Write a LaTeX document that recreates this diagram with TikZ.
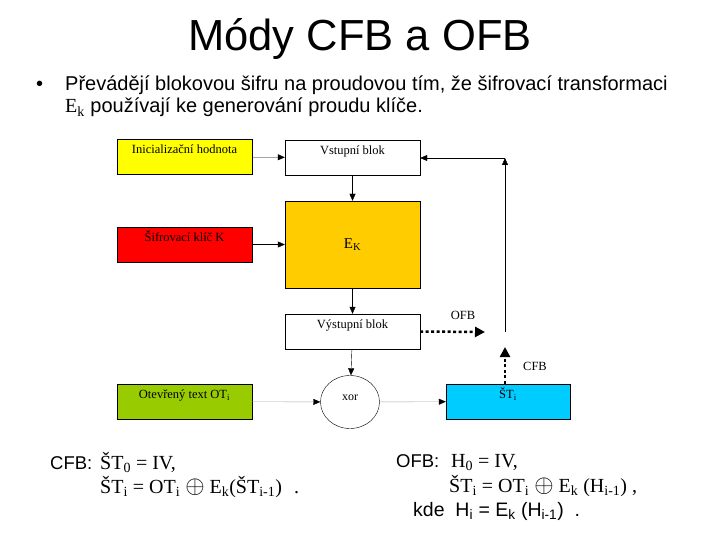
\documentclass[tikz,border=0pt]{standalone}
\usepackage{fontspec}
\setmainfont{Liberation Sans}
\newfontfamily\tms{Liberation Serif}
\usetikzlibrary{arrows.meta,shapes.geometric}
\definecolor{inityellow}{HTML}{FFFF00}
\definecolor{keyred}{HTML}{FF0000}
\definecolor{ekgold}{HTML}{FFCC00}
\definecolor{otgreen}{HTML}{99CC00}
\definecolor{stcyan}{HTML}{00CCFF}
\definecolor{lightline}{HTML}{A8A8A8}
\newcommand{\fsz}[1]{\fontsize{#1}{#1}\selectfont}
\newcommand{\bigxor}{{\fsz{23}$\oplus$}}

\begin{document}
\begin{tikzpicture}[x=1pt, y=-1pt,
      blk/.style={draw, thin, minimum width=135pt, inner ysep=3.5pt, text height=11pt, text depth=17pt,
                  font=\tms\fsz{12.5}},
      arr/.style={-{Triangle[length=7pt,width=6pt]}, thin},
      garr/.style={-{Triangle[length=7pt,width=6pt,color=black]}, thin, draw=lightline},
      dotarr/.style={-{Triangle[length=10pt,width=10pt]}, line width=2.5pt, dash pattern=on 3pt off 2.5pt},
      lbl/.style={font=\tms\fsz{12.5}},
      txt/.style={anchor=base west, inner sep=0pt, font=\fsz{20}},
      frm/.style={txt, font=\tms\fsz{20}}]
    \useasboundingbox (0,0) rectangle (720,540);
    % title and bullet
    \node[font=\fsz{43.5}] (title) at (360,39) {Módy CFB a OFB};
    \node[txt] (dot) at (36,91) {•};
    \node[txt] (line1) at (65,91) {Převádějí blokovou šifru na proudovou tím, že šifrovací transformaci};
    \node[txt] (line2) at (65,113) {{\tms E\textsubscript{k}} používají ke generování proudu klíče.};
    % blocks
    \node[blk, fill=inityellow] (init) at (184.5,157) {Inicializační hodnota};
    \node[blk, fill=white] (vstup) at (352.5,157.5) {Vstupní blok};
    \node[blk, fill=keyred] (klic) at (184.5,244.5) {Šifrovací klíč K};
    \node[draw, thin, fill=ekgold, minimum width=135pt, minimum height=87pt, font=\tms\fsz{15}] (ek) at (352.5,244.5) {E\textsubscript{K}};
    \node[blk, fill=white] (vystup) at (352.5,331.5) {Výstupní blok};
    \node[blk, fill=otgreen] (ot) at (184.5,401.5) {Otevřený text OT\textsubscript{i}};
    \node[draw, thin, ellipse, minimum width=59pt, minimum height=53pt, inner sep=0pt, text depth=9pt, font=\tms\fsz{12}] (xor) at (350,402) {xor};
    \node[blk, fill=stcyan, minimum width=124pt] (st) at (508,401.5) {ŠT\textsubscript{i}};
    % feedback
    \coordinate (fbase) at (505,332);
    \coordinate (ftop) at (505,158);
    \coordinate (ofbend) at (485,332);
    \coordinate (cfbend) at (505,347);
    \node[lbl] (ofb) at (463,315) {OFB};
    \node[lbl] (cfb) at (535,366) {CFB};
    % connectors
    \draw[arr] (init) -- (vstup);
    \draw[arr] (vstup) -- (vstup |- ek.north);
    \draw[arr] (klic) -- (ek);
    \draw[arr] (ek.south -| vstup) -- (vystup);
    \draw[arr] (vystup) -- (xor);
    \draw[garr] (ot) -- (xor);
    \draw[garr] (xor) -- (st);
    \draw[arr] (fbase) -- (ftop);
    \draw[arr] (ftop) -- (vstup.east |- ftop);
    \draw[dotarr] (vystup.east) -- (ofbend);
    \draw[dotarr] (st.north -| cfbend) -- (cfbend);
    % formulas
    \node[txt, font=\fsz{18.5}] (cfbhead) at (50,469) {CFB:};
    \node[frm] (cfb1) at (100,469) {ŠT\textsubscript{0} = IV,};
    \node[frm] (cfb2) at (100,493) {ŠT\textsubscript{i} = OT\textsubscript{i} \bigxor{} E\textsubscript{k}(ŠT\textsubscript{i-1})\hspace{12pt}.};
    \node[txt, font=\fsz{18.5}] (ofbhead) at (396,467) {OFB:};
    \node[frm] (ofb1) at (451,467) {H\textsubscript{0} = IV,};
    \node[frm] (ofb2) at (449,492) {ŠT\textsubscript{i} = OT\textsubscript{i} \bigxor{} E\textsubscript{k} (H\textsubscript{i-1}) ,};
    \node[txt, font=\fsz{19.5}] (ofb3) at (413,516) {kde\ \ H\textsubscript{i} = E\textsubscript{k} (H\textsubscript{i-1})\ \ .};
\end{tikzpicture}
\end{document}
